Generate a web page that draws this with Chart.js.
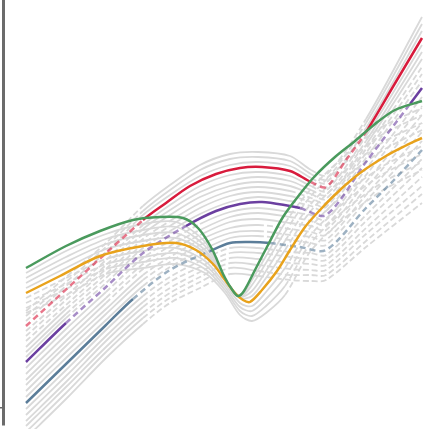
<!DOCTYPE html>
<html>
<head>
<meta charset="utf-8">
<script src="https://cdn.jsdelivr.net/npm/chart.js@4"></script>
<style>
  html, body { margin: 0; padding: 0; background: #fff; }
  #wrap { width: 428px; height: 429px; }
</style>
</head>
<body>
<div id="wrap"><canvas id="chart"></canvas></div>
<script>
// highlighted curves
const redX = [26, 143, 166, 190, 216, 240, 262, 290, 311, 326, 346, 366, 394, 422];
const redY = [326, 220, 203, 186, 174, 168, 167, 171, 182, 187, 160, 132, 85, 38];
const purpleX = [26, 66, 106, 143, 186, 216, 240, 262, 290, 300, 326, 366, 410, 422];
const purpleY = [362, 323, 287, 253, 226, 211, 204, 202, 206, 208, 215, 162, 104, 88];
const blueX = [26, 66, 106, 133, 170, 210, 230, 250, 270, 300, 326, 366, 394, 422];
const blueY = [403, 364, 325, 299, 270, 251, 243, 242, 243, 247, 250, 208, 180, 150];
const greenX = [26, 66, 100, 133, 160, 183, 198, 212, 224, 233, 238, 244, 255, 268, 283, 300, 315, 335, 355, 375, 395, 422];
const greenY = [268, 246, 231, 220, 217, 218, 228, 249, 276, 291, 296, 291, 270, 245, 217, 194, 176, 157, 141, 124, 110, 101];
const orangeX = [26, 60, 100, 143, 176, 196, 213, 225, 235, 243, 250, 262, 277, 290, 305, 320, 340, 360, 386, 405, 422];
const orangeY = [293, 276, 256, 246, 243, 250, 264, 280, 293, 300, 302, 290, 271, 250, 227, 210, 190, 173, 156, 146, 138];

// background family A (hump shaped)
const grayAX = [26, 66, 106, 143, 170, 200, 230, 258, 290, 311, 326, 366, 422];
const grayA = [
  [311, 277, 243, 206, 185, 165, 154, 152, 156, 170, 175, 119, 17],
  [316, 282, 247, 211, 190, 170, 159, 157, 161, 174, 179, 123, 24],
  [321, 286, 252, 215, 195, 176, 165, 162, 166, 178, 183, 128, 31],
  [331, 296, 260, 225, 205, 186, 175, 172, 176, 186, 191, 136, 45],
  [336, 300, 265, 229, 210, 192, 181, 177, 181, 190, 195, 141, 52],
  [341, 305, 269, 234, 215, 197, 186, 182, 186, 194, 199, 145, 59],
  [347, 309, 274, 239, 221, 203, 191, 187, 191, 198, 203, 149, 67],
  [352, 314, 278, 244, 226, 208, 196, 192, 196, 202, 207, 153, 74],
  [357, 318, 283, 248, 231, 214, 202, 197, 201, 206, 211, 158, 81],
  [368, 329, 292, 258, 241, 224, 212, 208, 212, 215, 220, 169, 97],
  [374, 335, 298, 264, 246, 230, 217, 213, 217, 221, 225, 175, 106],
  [380, 341, 303, 269, 251, 235, 222, 219, 223, 226, 230, 182, 115],
  [385, 346, 309, 275, 257, 240, 228, 225, 229, 232, 235, 188, 123],
  [391, 352, 314, 280, 262, 245, 233, 231, 235, 237, 240, 195, 132],
  [397, 358, 320, 286, 267, 251, 238, 236, 240, 243, 245, 201, 141],
  [409, 370, 330, 296, 277, 261, 248, 248, 252, 253, 255, 215, 159],
  [415, 376, 336, 302, 282, 267, 253, 253, 257, 259, 260, 221, 168],
  [421, 382, 341, 307, 288, 272, 258, 259, 263, 264, 265, 228, 177],
  [426, 387, 347, 313, 293, 277, 263, 265, 269, 270, 270, 234, 186],
  [432, 393, 352, 318, 298, 282, 268, 271, 275, 275, 275, 241, 194],
  [438, 399, 358, 324, 303, 288, 274, 276, 280, 281, 280, 247, 203]
];

// background family B (dip shaped)
const grayBX = [26, 66, 106, 143, 176, 205, 225, 240, 252, 266, 285, 310, 340, 380, 422];
const grayB = [
  [273, 251, 234, 224, 222, 242, 279, 296, 280, 256, 223, 190, 160, 128, 108],
  [278, 257, 239, 230, 227, 246, 279, 297, 285, 263, 232, 197, 167, 136, 115],
  [283, 262, 244, 235, 233, 250, 280, 297, 291, 271, 241, 205, 175, 144, 123],
  [288, 268, 249, 241, 238, 253, 280, 298, 296, 278, 250, 212, 182, 152, 130],
  [298, 278, 259, 251, 248, 261, 284, 303, 306, 292, 268, 228, 198, 168, 146],
  [303, 284, 264, 257, 253, 265, 287, 307, 311, 299, 277, 236, 206, 176, 154],
  [308, 289, 269, 262, 258, 269, 290, 311, 316, 306, 286, 244, 214, 184, 162],
  [313, 295, 274, 268, 264, 273, 293, 315, 321, 313, 295, 252, 222, 192, 170]
];

// x-ranges drawn dashed (style only)
const dashA = [
  [[26, 143], [311, 366]], [[26, 143], [311, 366]], [[26, 143], [311, 366]],
  [[26, 143], [311, 366]], [[26, 143], [311, 366]], [[26, 143], [311, 366]],
  [[66, 170], [290, 422]], [[66, 170], [290, 422]], [[66, 170], [290, 422]],
  [[106, 200], [290, 422]], [[106, 200], [290, 422]], [[106, 200], [290, 422]],
  [[143, 200], [258, 422]], [[143, 200], [258, 422]], [[143, 200], [258, 422]],
  [[143, 230], [258, 422]], [[143, 230], [258, 422]], [[143, 230], [258, 422]],
  [[143, 230], [258, 422]], [[143, 230], [258, 422]], [[143, 230], [258, 422]]
];
const dashB = [
  [[285, 422]], [[285, 422]], [[285, 422]], [[285, 422]],
  [[26, 106], [285, 422]], [[26, 106], [285, 422]], [[26, 106], [285, 422]], [[26, 106], [285, 422]]
];

const GRAY = '#d9d9d9';

function inRanges(ranges, a, b) {
  const m = (a + b) / 2;
  return ranges.some(r => m > r[0] && m < r[1]);
}

function makeLine(xs, ys, color, dashColor, width, dash, ranges, order) {
  return {
    data: xs.map((x, i) => ({ x: x, y: ys[i] })),
    borderColor: color,
    borderWidth: width,
    pointRadius: 0,
    tension: 0.3,
    clip: false,
    order: order,
    segment: {
      borderDash: ctx => inRanges(ranges, xs[ctx.p0DataIndex], xs[ctx.p1DataIndex]) ? dash : undefined,
      borderColor: ctx => inRanges(ranges, xs[ctx.p0DataIndex], xs[ctx.p1DataIndex]) ? dashColor : undefined
    }
  };
}

const datasets = [
  makeLine(greenX, greenY, '#4a9a5d', '#4a9a5d', 2.5, [6, 4], [], 0),
  makeLine(orangeX, orangeY, '#e8a21c', '#e8a21c', 2.5, [6, 4], [], 0),
  makeLine(redX, redY, '#d81b3c', 'rgba(216,27,60,0.6)', 2.5, [6, 4], [[26, 143], [311, 366]], 0),
  makeLine(purpleX, purpleY, '#6b3fa0', 'rgba(107,63,160,0.6)', 2.5, [6, 4], [[66, 186], [300, 410]], 0),
  makeLine(blueX, blueY, '#5b7d99', 'rgba(91,125,153,0.6)', 2.5, [6, 4], [[133, 210], [270, 422]], 0)
];
grayA.forEach((ys, i) => datasets.push(makeLine(grayAX, ys, GRAY, GRAY, 1.8, [6, 3], dashA[i], 1)));
grayB.forEach((ys, i) => datasets.push(makeLine(grayBX, ys, GRAY, GRAY, 1.8, [6, 3], dashB[i], 1)));

new Chart('chart', {
  type: 'line',
  data: { datasets: datasets },
  options: {
    responsive: true,
    maintainAspectRatio: false,
    animation: false,
    events: [],
    layout: { padding: { bottom: 4 } },
    plugins: { legend: { display: false }, tooltip: { enabled: false } },
    scales: {
      x: { type: 'linear', display: false, min: 3, max: 428 },
      y: {
        reverse: true,
        min: 0,
        max: 425,
        afterBuildTicks: scale => { scale.ticks = [{ value: 408 }]; },
        ticks: { display: false },
        grid: { drawOnChartArea: false, drawTicks: true, tickLength: 3, color: '#666', lineWidth: 1.5 },
        border: { display: true, color: '#6b6b6b', width: 3 }
      }
    }
  }
});
</script>
</body>
</html>
